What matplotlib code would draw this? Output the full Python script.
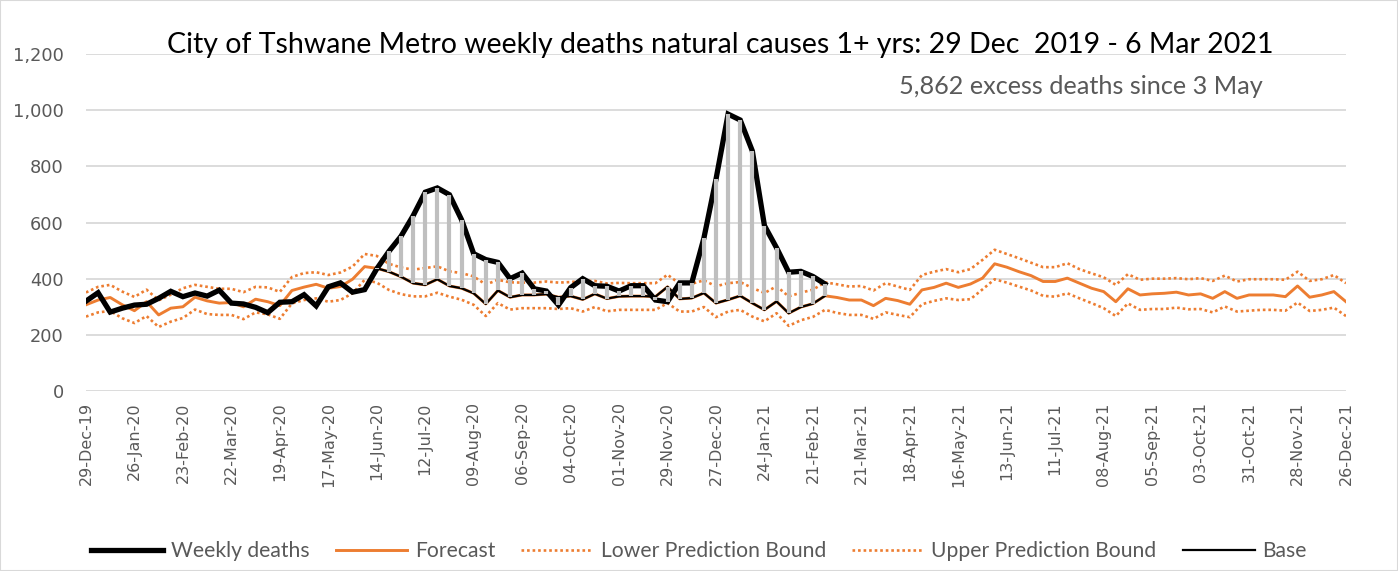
import matplotlib
matplotlib.use("Agg")
import matplotlib.pyplot as plt
from matplotlib.patches import Rectangle
import numpy as np

# weekly categories: 29-Dec-2019 .. 26-Dec-2021 (105 weeks)
n_weeks = 105
tick_labels = [
    "29-Dec-19", "26-Jan-20", "23-Feb-20", "22-Mar-20", "19-Apr-20", "17-May-20",
    "14-Jun-20", "12-Jul-20", "09-Aug-20", "06-Sep-20", "04-Oct-20", "01-Nov-20",
    "29-Nov-20", "27-Dec-20", "24-Jan-21", "21-Feb-21", "21-Mar-21", "18-Apr-21",
    "16-May-21", "13-Jun-21", "11-Jul-21", "08-Aug-21", "05-Sep-21", "03-Oct-21",
    "31-Oct-21", "28-Nov-21", "26-Dec-21",
]

weekly_deaths = [
    320, 350, 281, 295, 306, 309, 330, 355, 336, 349,
    338, 359, 313, 310, 298, 279, 316, 318, 343, 303,
    371, 385, 352, 361, 435, 497, 551, 624, 708, 723,
    699, 610, 489, 468, 458, 400, 420, 364, 356, 306,
    368, 400, 375, 373, 356, 375, 375, 324, 318, 385,
    385, 544, 754, 986, 965, 855, 589, 510, 423, 426,
    408, 381,
]

forecast = [
    307, 324, 333, 307, 286, 318, 271, 295, 300, 334, 321, 313, 315, 300, 327,
    318, 304, 358, 370, 380, 366, 372, 398, 443, 437,
    425, 407, 384, 378, 398, 374, 366, 348, 310, 358, 334, 342, 342, 345, 334,
    338, 326, 346, 329, 337, 338, 338, 336, 371, 328, 331, 349, 313, 325, 339,
    313, 289, 319, 277, 299, 311,
    339, 333, 324, 324, 304, 330, 322, 309, 360, 369, 384, 369, 381, 402, 453,
    441, 425, 411, 390, 390, 402, 384, 366, 354, 318, 364, 342, 346, 348, 352,
    342, 346, 330, 354, 330, 342, 342, 342, 336, 374, 334, 342, 354, 318,
]

lower_bound = [
    265, 280, 285, 259, 242, 267, 228, 247, 260, 290, 274, 271, 271, 256, 280,
    273, 257, 312, 324, 330, 318, 324, 348, 396, 386, 360, 345, 337, 337, 350,
    336, 325,
    307, 267, 313, 290, 295, 295, 295, 292, 295, 283, 299, 284, 289, 289, 289,
    289, 313, 283, 283, 299, 263, 283, 289, 265, 248, 277, 232, 252, 264, 289,
    278, 271, 271, 257, 280, 271, 263, 309, 321, 330, 324, 327, 362, 398, 386,
    372, 358, 339, 336, 348, 330, 313, 295, 267, 312, 289, 292, 292, 297, 291,
    292, 280, 301, 283, 286, 289, 289, 286, 315, 285, 289, 297, 267,
]

upper_bound = [
    351, 371, 378, 354, 335, 361, 323, 343, 366, 378, 371, 364, 364, 352, 371,
    369, 353, 406, 420, 423, 413, 422, 443, 488, 481, 453, 440,
    432, 438, 444, 426, 420, 408, 379, 396, 387, 386, 386, 390, 386, 388, 392,
    392, 383, 385, 384, 384, 384, 414, 382, 382, 394, 373, 384, 388, 367, 349,
    373, 337, 350, 361, 387,
    380, 372, 374, 358, 384, 372, 360, 413, 425, 434, 423, 434, 467, 503, 488,
    473, 457, 441, 441, 455, 434, 419, 405, 378, 416, 396, 400, 400, 402, 398,
    402, 392, 411, 390, 398, 398, 398, 396, 425, 392, 398, 413, 384,
]

base_start = 24
base = [
    437, 425, 407, 384, 378, 398, 374, 366, 348, 310, 358, 334, 342, 342, 345,
    334, 338, 326, 346, 329, 337, 338, 338, 336, 371, 328, 331, 349, 313, 325,
    339, 313, 289, 319, 277, 299, 311, 339,
]

y_ticks = [0, 200, 400, 600, 800, 1000, 1200]
y_tick_labels = ["0", "200", "400", "600", "800", "1,000", "1,200"]

title = "City of Tshwane Metro weekly deaths natural causes 1+ yrs: 29 Dec  2019 - 6 Mar 2021"
note = "5,862 excess deaths since 3 May"

orange = "#ED7D31"
grey_text = "#595959"

weeks = np.arange(n_weeks)
death_weeks = np.arange(len(weekly_deaths))
base_weeks = np.arange(base_start, base_start + len(base))
deaths_on_base = np.array(weekly_deaths)[base_weeks]

fig = plt.figure(figsize=(13.98, 5.71), dpi=100)
ax = fig.add_axes([0.0615, 0.3152, 0.9013, 0.5902])

dots = (0, (1, 1.1))
ax.plot(weeks, lower_bound, color=orange, lw=1.9, ls=dots, label="Lower Prediction Bound", zorder=2)
ax.plot(weeks, upper_bound, color=orange, lw=1.9, ls=dots, label="Upper Prediction Bound", zorder=2)
ax.plot(weeks, forecast, color=orange, lw=2.1, label="Forecast", zorder=3)
ax.plot(base_weeks, base, color="black", lw=1.6, label="Base", zorder=4)
ax.plot(death_weeks, weekly_deaths, color="black", lw=3.8, label="Weekly deaths",
        solid_joinstyle="miter", zorder=5)
ax.vlines(base_weeks, base, deaths_on_base, color="#bfbfbf", lw=3.0, zorder=6)

ax.set_xlim(0, n_weeks - 1)
ax.set_ylim(0, 1200)
ax.set_yticks(y_ticks)
ax.set_yticklabels(y_tick_labels)
ax.set_xticks(np.arange(0, n_weeks, 4))
ax.set_xticklabels(tick_labels, rotation=90)
ax.tick_params(axis="both", length=0, colors=grey_text)
ax.tick_params(axis="x", pad=8, labelsize=11.5)
ax.tick_params(axis="y", pad=16, labelsize=12.8)
ax.grid(axis="y", color="#d9d9d9", lw=1.3)
ax.set_axisbelow(True)
for s in ax.spines.values():
    s.set_visible(False)

fig.text(0.515, 0.921, title, ha="center", va="center", fontsize=20.5,
         family="Lato", color="black")
fig.text(0.903, 0.848, note, ha="right", va="center", fontsize=18.2,
         family="Lato", color=grey_text)

handles, labels = ax.get_legend_handles_labels()
order = ["Weekly deaths", "Forecast", "Lower Prediction Bound", "Upper Prediction Bound", "Base"]
hmap = dict(zip(labels, handles))
leg = fig.legend([hmap[k] for k in order], order, loc="center", bbox_to_anchor=(0.5, 0.035),
                 ncol=5, frameon=False, handlelength=3.4, columnspacing=1.25,
                 handletextpad=0.35, prop={"family": "Lato", "size": 15.2})
for t in leg.get_texts():
    t.set_color(grey_text)

fig.patches.append(Rectangle((0, 0), 1, 1, transform=fig.transFigure, fill=False,
                             edgecolor="#d9d9d9", lw=1.5))

fig.savefig("out.png", dpi=100)
